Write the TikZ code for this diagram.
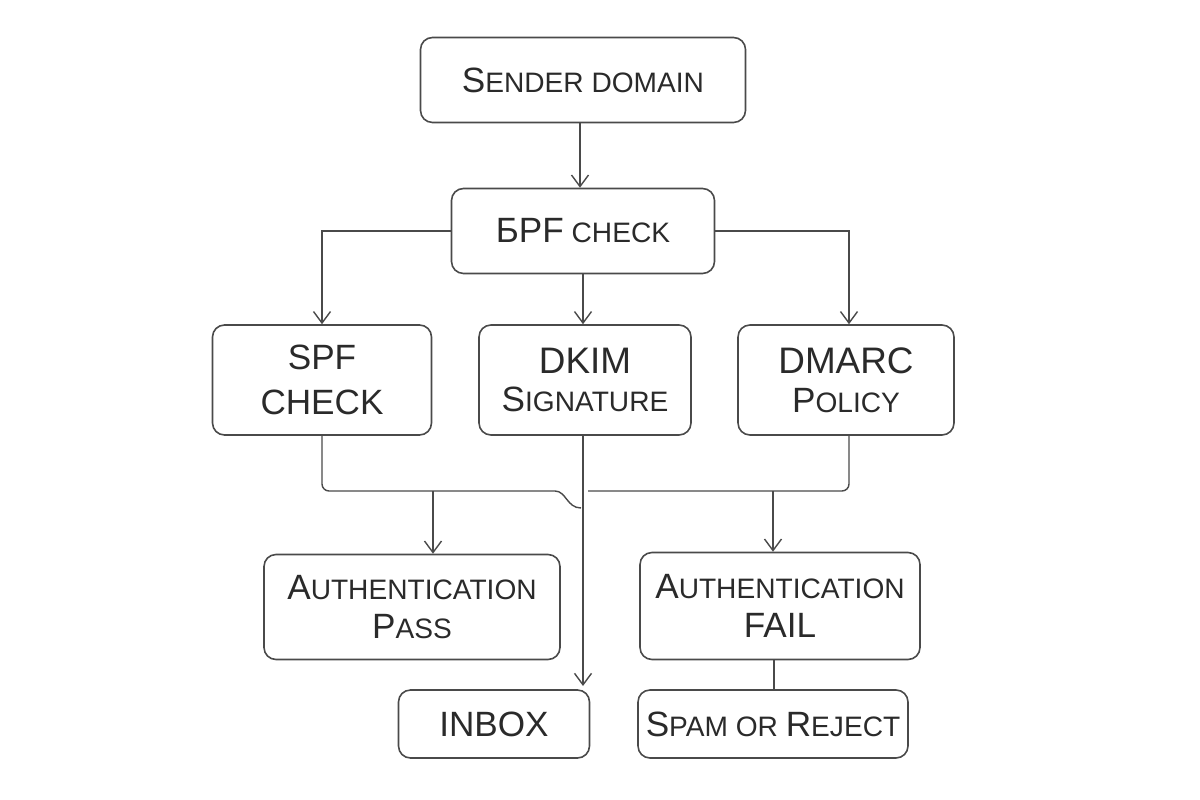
\documentclass[tikz,border=0pt]{standalone}
\usepackage{fontspec}
\setmainfont{Liberation Sans}
\usetikzlibrary{arrows.meta}
\newcommand\Bg[1]{{\fontsize{20}{24}\selectfont #1}}
\newcommand\Hg[1]{{\fontsize{21}{26}\selectfont #1}}
\newcommand\Sg[1]{{\fontsize{20}{26}\selectfont #1}}
\definecolor{ink}{HTML}{4A4A4A}
\definecolor{txt}{HTML}{2A2A2A}
\tikzset{
  box/.style={draw=ink, line width=0.9pt, rounded corners=0.24cm, fill=white,
    text=txt, align=center, inner sep=2pt,
    font=\fontsize{16}{22}\selectfont},
  conn/.style={draw=ink, line width=0.8pt},
  arr/.style={conn, -{Straight Barb[length=2.3mm,width=3.4mm]}},
}
\begin{document}
\begin{tikzpicture}[x=0.02cm, y=-0.02cm]
\useasboundingbox (0,0) rectangle (1200,800);
\fill[white] (0,0) rectangle (1200,800);

\node[box, minimum width=325*0.02cm, minimum height=85*0.02cm] (sender) at (583,80) {\Bg{S}ENDER DOMAIN};
\node[box, minimum width=263*0.02cm, minimum height=85*0.02cm] (bpf) at (583,231) {\Bg{БPF} CHECK};

\node[box, minimum width=219*0.02cm, minimum height=110*0.02cm] (spf) at (322,380) {\Sg{SPF}\\[4pt]\Sg{CHECK}};
\node[box, minimum width=212*0.02cm, minimum height=110*0.02cm] (dkim) at (585,380) {\Hg{DKIM}\\\Bg{S}IGNATURE};
\node[box, minimum width=216*0.02cm, minimum height=110*0.02cm] (dmarc) at (846,380) {\Hg{DMARC}\\\Bg{P}OLICY};

\node[box, minimum width=296*0.02cm, minimum height=105*0.02cm] (apass) at (412,607) {\Bg{A}UTHENTICATION\\\Bg{P}ASS};
\node[box, minimum width=280*0.02cm, minimum height=107*0.02cm] (afail) at (780,606) {\Bg{A}UTHENTICATION\\\Bg{FAIL}};

\node[box, minimum width=191*0.02cm, minimum height=68*0.02cm] (inbox) at (494,724) {\Bg{INBOX}};
\node[box, minimum width=270*0.02cm, minimum height=68*0.02cm] (spam) at (773,724) {\Bg{S}PAM OR \Bg{R}EJECT};

\coordinate (jl) at (548,491);
\coordinate (hook) at (581,508);
\coordinate (jr) at (588,491);
\coordinate (jp) at (433,491);
\coordinate (jf) at (773,491);
\coordinate (tipin) at (583,686);

% top connectors
\draw[arr] (sender.south -| 580,0) -- (bpf.north -| 580,0);
\draw[arr] (bpf.west) -| (spf.north);
\draw[arr] (bpf.east) -| (dmarc.north -| 849,0);
\draw[arr] (bpf.south) -- (bpf.south |- dkim.north);

% merge lines
\draw[conn, rounded corners=4pt] (spf.south) |- (jl) .. controls (566,491) and (567,508) .. (hook);
\draw[conn, rounded corners=4pt] (dmarc.south -| 849,0) |- (jr);
\draw[arr] (dkim.south -| 583,0) -- (tipin);
\draw[arr] (jp) -- (jp |- apass.north);
\draw[arr] (jf) -- (jf |- afail.north);
\draw[conn] (spam.north -| 774,0) -- (afail.south -| 774,0);
\end{tikzpicture}
\end{document}
